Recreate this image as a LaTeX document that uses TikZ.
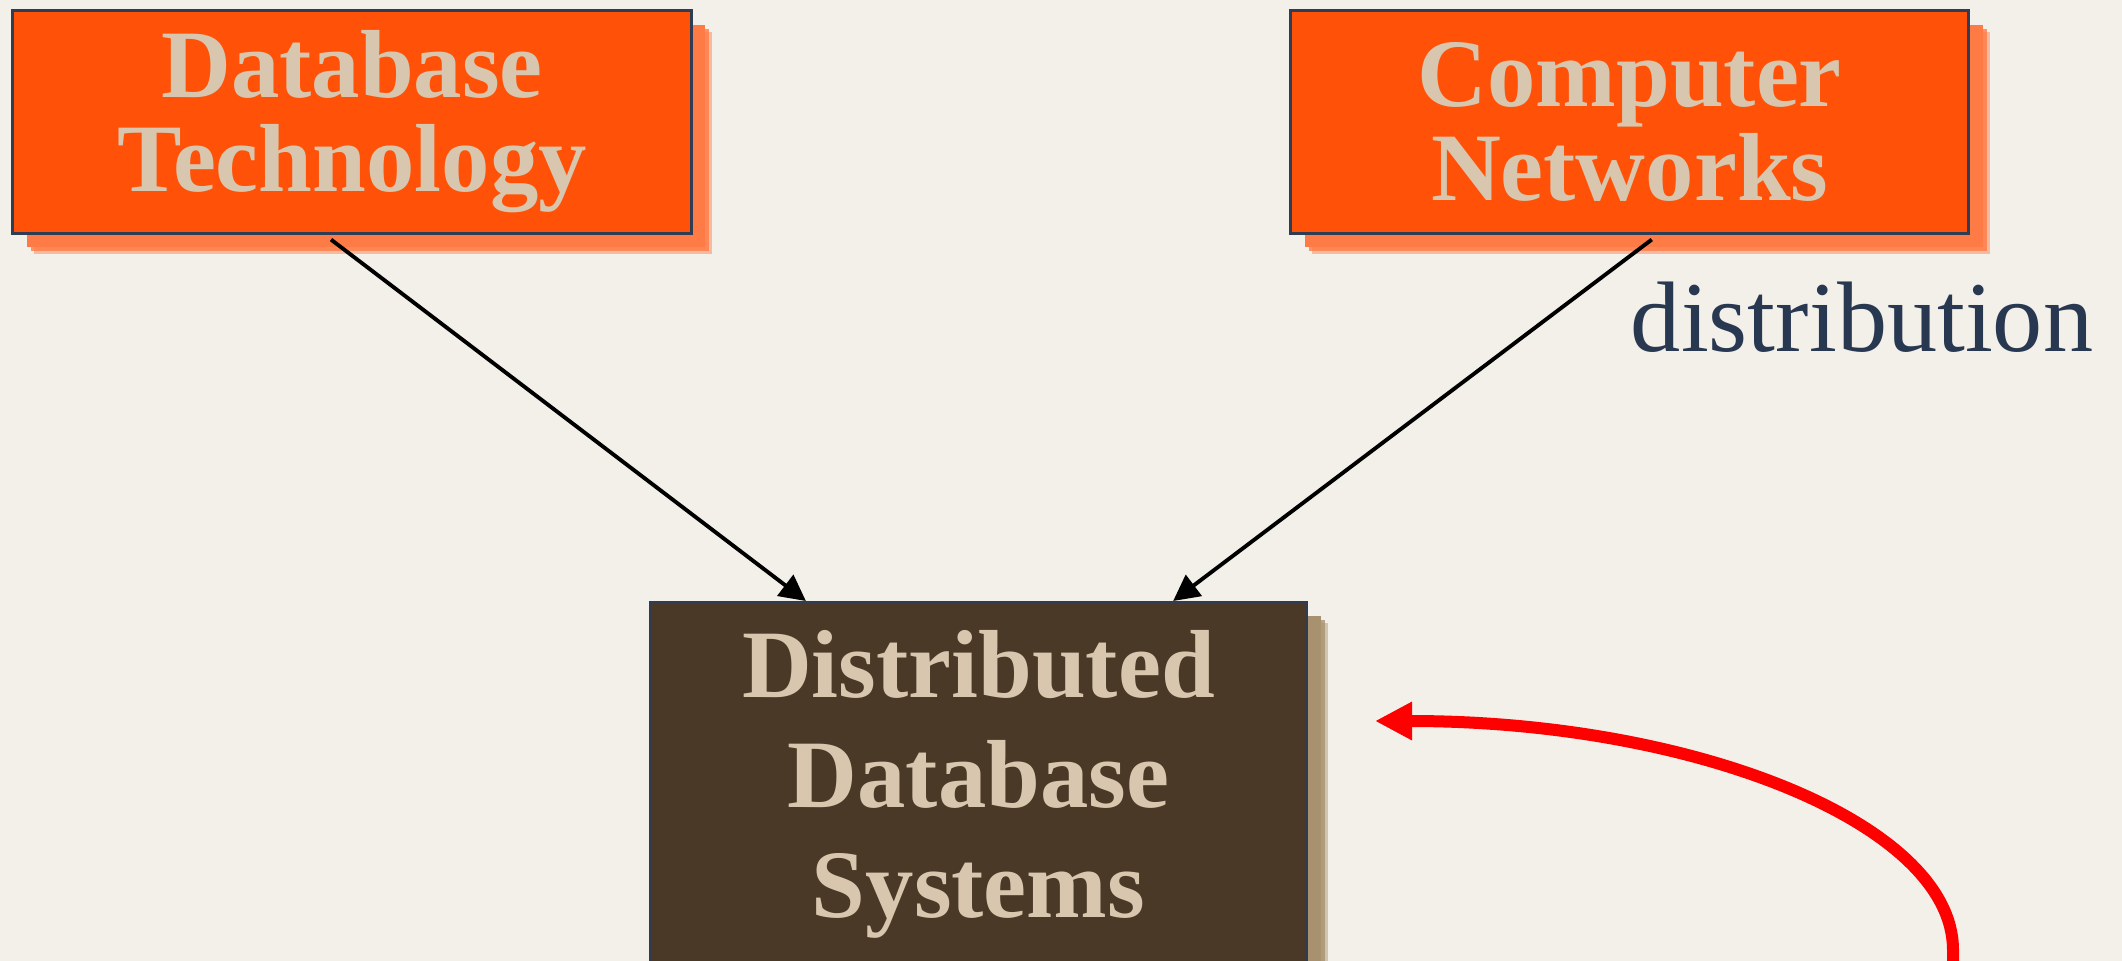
\documentclass[tikz,border=0pt]{standalone}
\usepackage{fontspec}
\setmainfont{Liberation Serif}
\usepackage{xcolor}
\usetikzlibrary{arrows.meta,positioning,shadows}

\definecolor{paper}{HTML}{F3EFE9}
\definecolor{hotorange}{HTML}{FF5208}
\definecolor{orangeshade}{HTML}{FF7B45}
\definecolor{boxline}{HTML}{2F3C52}
\definecolor{sand}{HTML}{D8C7AE}
\definecolor{cocoa}{HTML}{4A3927}
\definecolor{cocoashade}{HTML}{A8916F}
\definecolor{inkblue}{HTML}{283850}

\begin{document}
\begin{tikzpicture}[x=0.01cm, y=-0.01cm, >={Triangle[length=2.6mm,width=2.6mm]}, node distance=5.96cm]
\tikzstyle{soft shade}=[drop shadow={shadow xshift=0.21cm,shadow yshift=-0.21cm,fill=#1,opacity=0.45},drop shadow={shadow xshift=0.18cm,shadow yshift=-0.18cm,fill=#1,opacity=0.8},drop shadow={shadow xshift=0.14cm,shadow yshift=-0.14cm,fill=#1,opacity=1}]
\tikzstyle{topic}=[draw=boxline,line width=0.85pt,fill=hotorange,text=sand,font=\fontsize{27.5}{26.7}\selectfont\bfseries,align=center,minimum width=6.78cm,minimum height=2.22cm,soft shade=orangeshade]
\tikzstyle{result}=[draw=boxline,line width=0.6pt,fill=cocoa,text=sand,font=\fontsize{27.5}{31.2}\selectfont\bfseries,align=center,minimum width=6.57cm,minimum height=3.64cm,soft shade=cocoashade]
\useasboundingbox (0,0) rectangle (2122,961);
\fill[paper] (0,0) rectangle (2122,961);
\clip (0,0) rectangle (2122,961);
\node[topic]    (dbtech) at (352,122)           {Database\\Technology};
\node[topic]    (cnet)   [right=of dbtech]      {Computer\\Networks};
\node[result,anchor=north] (ddbs) at (978.5,601) {Distributed\\Database\\Systems};
\node[text=inkblue,font=\fontsize{28.5}{30}\selectfont,anchor=base] (distlbl) at (1862,352) {distribution};
\coordinate (loopstart) at (1953,975);
\coordinate (looptip)   at (1375,721);
\path[->,line width=1.1pt]
([xshift=-0.21cm,yshift=-0.05cm]dbtech.south) edge ([xshift=-1.725cm]ddbs.north)
([xshift=0.22cm,yshift=-0.05cm]cnet.south)    edge ([xshift=1.945cm]ddbs.north);
\draw[red,line width=0.12cm,-{Triangle[length=3.7mm,width=3.6mm]}]
(loopstart) -- (1953,950) .. controls (1953,824) and (1695,721) .. (looptip);
\end{tikzpicture}
\end{document}
